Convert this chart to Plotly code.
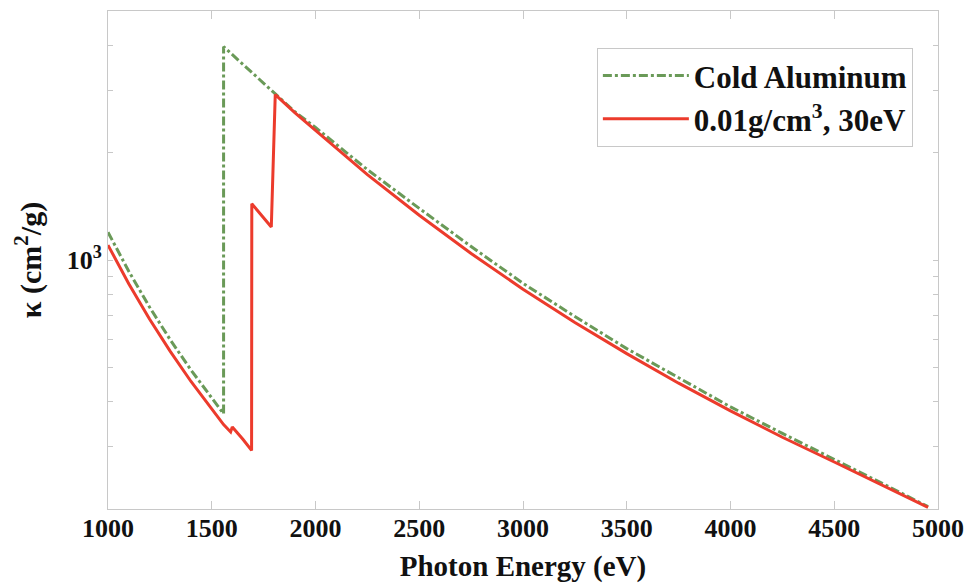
import plotly.graph_objects as go

# ---- data ----
cold_energy = [1000, 1100, 1200, 1300, 1400, 1500, 1557, 1557, 1650, 1750, 1806, 1900,
               2000, 2250, 2500, 2750, 3000, 3250, 3500, 3750, 4000, 4250, 4500, 4750, 4952]
cold_kappa = [1197, 930, 738, 597, 491, 408, 370, 3971, 3538, 3123, 2913, 2609,
              2355, 1793, 1396, 1091, 860, 694, 564, 466, 387, 326, 276, 233, 203]

hot_energy = [1000, 1100, 1200, 1300, 1400, 1500, 1557, 1591, 1599, 1650, 1692, 1693, 1787,
              1806, 1900, 2000, 2250, 2500, 2750, 3000, 3250, 3500, 3750, 4000, 4250, 4500,
              4750, 4952]
hot_kappa = [1101, 858, 683, 554, 456, 381, 345, 329, 340, 314, 292, 1439, 1238,
             2913, 2592, 2310, 1736, 1335, 1043, 828, 668, 546, 451, 377, 318, 271,
             230, 202]

series_names = ["Cold Aluminum", "0.01g/cm<sup>3</sup>, 30eV"]

x_tickvals = [1000, 1500, 2000, 2500, 3000, 3500, 4000, 4500, 5000]
x_ticktext = ["1000", "1500", "2000", "2500", "3000", "3500", "4000", "4500", "5000"]
y_tickvals = [300, 400, 500, 600, 700, 800, 900, 1000, 2000, 3000, 4000]
y_ticktext = ["", "", "", "", "", "", "", "10<sup>3</sup>", "", "", ""]

GREEN = "#6a9a58"
RED = "#ec3b2c"
SERIF = "Liberation Serif"

fig = go.Figure()
fig.add_trace(go.Scatter(
    x=cold_energy, y=cold_kappa, mode="lines", name=series_names[0],
    legendgroup="a",
    line=dict(color=GREEN, width=3, dash="dashdot"),
))
fig.add_trace(go.Scatter(
    x=hot_energy, y=hot_kappa, mode="lines", name=series_names[1],
    legendgroup="b",
    line=dict(color=RED, width=3),
))

axis_common = dict(
    showline=True, linecolor="#c8c8c8", linewidth=1, mirror="ticks",
    ticks="inside", tickcolor="#c8c8c8", showgrid=False, zeroline=False,
    tickfont=dict(family=SERIF, size=26, color="#111111", weight="bold"),
)

fig.update_layout(
    width=974, height=587,
    margin=dict(l=108, r=29, t=10, b=77),
    paper_bgcolor="white", plot_bgcolor="white",
    showlegend=True,
    legend=dict(
        x=0.589, y=0.926, xanchor="left", yanchor="top",
        bgcolor="white", bordercolor="#c8c8c8", borderwidth=1,
        font=dict(family=SERIF, size=31, color="#111111", weight="bold"),
        itemwidth=86, tracegroupgap=0,
    ),
    xaxis=dict(
        range=[1000, 5000], tickvals=x_tickvals, ticktext=x_ticktext, ticklen=8,
        ticklabelstandoff=-4,
        title=dict(text="Photon Energy (eV)",
                   font=dict(family=SERIF, size=29, color="#111111", weight="bold"),
                   standoff=13),
        **axis_common,
    ),
    yaxis=dict(
        type="log", range=[2.301, 3.699], tickvals=y_tickvals, ticktext=y_ticktext,
        ticklen=5,
        title=dict(text="κ (cm<sup>2</sup>/g)",
                   font=dict(family=SERIF, size=30, color="#111111", weight="bold"),
                   standoff=16),
        **axis_common,
    ),
)

fig.write_html("out.html")
